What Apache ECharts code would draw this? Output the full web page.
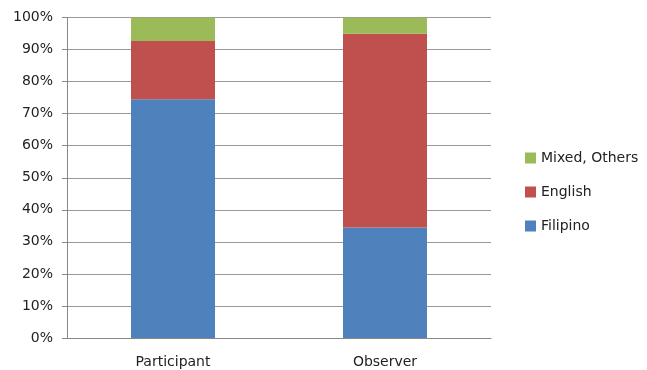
<!DOCTYPE html>
<html>
<head>
<meta charset="utf-8">
<script src="https://cdn.jsdelivr.net/npm/echarts@6/dist/echarts.min.js"></script>
<style>
    html, body { margin: 0; padding: 0; background: #fff; }
    #chart { width: 647px; height: 370px; }
</style>
</head>
<body>
<div id="chart"></div>
<script>
    var categories = ['Participant', 'Observer'];
    var filipino = [74.5, 34.5];
    var english = [18.2, 60.4];
    var mixed = [7.3, 5.1];
    var legendOrder = ['Mixed, Others', 'English', 'Filipino'];

    var myChart = echarts.init(document.getElementById('chart'));
    var font = 'DejaVu Sans';
    var option = {
        animation: false,
        textStyle: {fontFamily: font},
        grid: {
            left: 67,
            right: 156,
            top: 17.5,
            bottom: 32
        },
        legend: {
            orient: 'vertical',
            left: 520,
            top: 146,
            itemWidth: 11,
            itemHeight: 11,
            itemGap: 20,
            icon: 'rect',
            data: legendOrder,
            textStyle: {fontFamily: font, fontSize: 14, color: '#222'}
        },
        xAxis: {
            type: 'category',
            data: categories,
            axisLine: {lineStyle: {color: '#888'}},
            axisTick: {length: 5, lineStyle: {color: '#888'}},
            axisLabel: {fontFamily: font, fontSize: 14, color: '#222', margin: 17}
        },
        yAxis: {
            type: 'value',
            min: 0,
            max: 100,
            interval: 10,
            axisLine: {show: true, lineStyle: {color: '#888'}},
            axisTick: {show: true, length: 5, lineStyle: {color: '#888'}},
            axisLabel: {
                fontFamily: font, fontSize: 14, color: '#222', margin: 14,
                formatter: '{value}%'
            },
            splitLine: {lineStyle: {color: '#999', width: 1}}
        },
        series: [
            {
                name: 'Filipino',
                type: 'bar',
                stack: 'total',
                barWidth: 84,
                data: filipino,
                itemStyle: {color: '#4F81BD'}
            },
            {
                name: 'English',
                type: 'bar',
                stack: 'total',
                barWidth: 84,
                data: english,
                itemStyle: {color: '#C0504D'}
            },
            {
                name: 'Mixed, Others',
                type: 'bar',
                stack: 'total',
                barWidth: 84,
                data: mixed,
                itemStyle: {color: '#9BBB59'}
            }
        ]
    };
    myChart.setOption(option);
</script>
</body>
</html>
